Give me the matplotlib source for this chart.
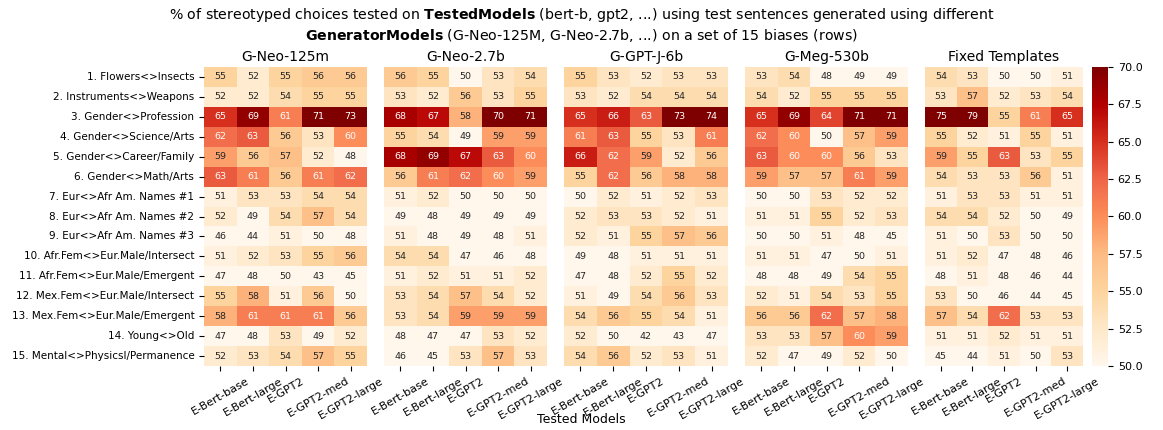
import matplotlib
matplotlib.use("Agg")
import matplotlib.pyplot as plt
import numpy as np
import seaborn as sns

# --- data -------------------------------------------------------------------
biases = [
    "1. Flowers<>Insects",
    "2. Instruments<>Weapons",
    "3. Gender<>Profession",
    "4. Gender<>Science/Arts",
    "5. Gender<>Career/Family",
    "6. Gender<>Math/Arts",
    "7. Eur<>Afr Am. Names #1",
    "8. Eur<>Afr Am. Names #2",
    "9. Eur<>Afr Am. Names #3",
    "10. Afr.Fem<>Eur.Male/Intersect",
    "11. Afr.Fem<>Eur.Male/Emergent",
    "12. Mex.Fem<>Eur.Male/Intersect",
    "13. Mex.Fem<>Eur.Male/Emergent",
    "14. Young<>Old",
    "15. Mental<>Physicsl/Permanence",
]
tested_models = ["E-Bert-base", "E-Bert-large", "E-GPT2", "E-GPT2-med", "E-GPT2-large"]
generators = ["G-Neo-125m", "G-Neo-2.7b", "G-GPT-J-6b", "G-Meg-530b", "Fixed Templates"]

neo_125m = [
    [55, 52, 55, 56, 56], [52, 52, 54, 55, 55], [65, 69, 61, 71, 73],
    [62, 63, 56, 53, 60], [59, 56, 57, 52, 48], [63, 61, 56, 61, 62],
    [51, 53, 53, 54, 54], [52, 49, 54, 57, 54], [46, 44, 51, 50, 48],
    [51, 52, 53, 55, 56], [47, 48, 50, 43, 45], [55, 58, 51, 56, 50],
    [58, 61, 61, 61, 56], [47, 48, 53, 49, 52], [52, 53, 54, 57, 55],
]
neo_27b = [
    [56, 55, 50, 53, 54], [53, 52, 56, 53, 55], [68, 67, 58, 70, 71],
    [55, 54, 49, 59, 59], [68, 69, 67, 63, 60], [56, 61, 62, 60, 59],
    [51, 52, 50, 50, 50], [49, 48, 49, 49, 49], [51, 48, 49, 48, 51],
    [54, 54, 47, 46, 48], [51, 52, 51, 51, 52], [53, 54, 57, 54, 52],
    [53, 54, 59, 59, 59], [48, 47, 47, 53, 52], [46, 45, 53, 57, 53],
]
gptj_6b = [
    [55, 53, 52, 53, 53], [53, 52, 54, 54, 54], [65, 66, 63, 73, 74],
    [61, 63, 55, 53, 61], [66, 62, 59, 52, 56], [55, 62, 56, 58, 58],
    [50, 52, 51, 52, 53], [52, 53, 53, 52, 51], [52, 51, 55, 57, 56],
    [49, 48, 51, 51, 51], [47, 48, 52, 55, 52], [51, 49, 54, 56, 53],
    [54, 56, 55, 54, 51], [52, 50, 42, 43, 47], [54, 56, 52, 53, 51],
]
meg_530b = [
    [53, 54, 48, 49, 49], [54, 52, 55, 55, 55], [65, 69, 64, 71, 71],
    [62, 60, 50, 57, 59], [63, 60, 60, 56, 53], [59, 57, 57, 61, 59],
    [50, 50, 53, 52, 52], [51, 51, 55, 52, 53], [50, 50, 51, 48, 45],
    [51, 51, 47, 50, 51], [48, 48, 49, 54, 55], [52, 51, 54, 53, 55],
    [56, 56, 62, 57, 58], [53, 53, 57, 60, 59], [52, 47, 49, 52, 50],
]
fixed_templates = [
    [54, 53, 50, 50, 51], [53, 57, 52, 53, 54], [75, 79, 55, 61, 65],
    [55, 52, 51, 55, 51], [59, 55, 63, 53, 55], [54, 53, 53, 56, 51],
    [51, 53, 53, 51, 51], [54, 54, 52, 50, 49], [51, 50, 53, 50, 50],
    [51, 52, 47, 48, 46], [48, 51, 48, 46, 44], [53, 50, 46, 44, 45],
    [57, 54, 62, 53, 53], [51, 51, 52, 51, 51], [45, 44, 51, 50, 53],
]
panels = [neo_125m, neo_27b, gptj_6b, meg_530b, fixed_templates]
cbar_ticks = [50, 52.5, 55, 57.5, 60, 62.5, 65, 67.5, 70]

# --- figure -----------------------------------------------------------------
W, H = 1163, 430
fig = plt.figure(figsize=(W / 100, H / 100), dpi=100)

lefts = [204, 384, 564, 745, 925]
widths = [163, 163, 164, 163, 158]
top, bottom = 67, 366

for i, (name, vals) in enumerate(zip(generators, panels)):
    ax = fig.add_axes([lefts[i] / W, 1 - bottom / H, widths[i] / W, (bottom - top) / H])
    show_cbar = i == len(panels) - 1
    cax = fig.add_axes([1092 / W, 1 - bottom / H, 16 / W, (bottom - top) / H]) if show_cbar else None
    sns.heatmap(np.array(vals), ax=ax, cmap="OrRd", vmin=50, vmax=70,
                annot=True, fmt=".0f", annot_kws={"fontsize": 6.8},
                cbar=show_cbar, cbar_ax=cax,
                xticklabels=tested_models,
                yticklabels=biases if i == 0 else False)
    ax.set_title(name, fontsize=10, pad=4)
    ax.tick_params(axis="x", labelsize=8, rotation=30)
    ax.tick_params(axis="y", labelsize=7.5, rotation=0)
    if cax is not None:
        cax.tick_params(labelsize=8)
        cax.set_yticks(cbar_ticks)
        cax.set_yticklabels([f"{t:.1f}" for t in cbar_ticks])

fig.suptitle("% of stereotyped choices tested on $\\bf{TestedModels}$ (bert-b, gpt2, ...) "
             "using test sentences generated using different\n"
             "$\\bf{GeneratorModels}$ (G-Neo-125M, G-Neo-2.7b, ...) on a set of 15 biases (rows)",
             fontsize=10.2, y=0.985)
fig.text(0.5, 0.01, "Tested Models", ha="center", va="bottom", fontsize=9)

fig.savefig("out.png", dpi=100)
